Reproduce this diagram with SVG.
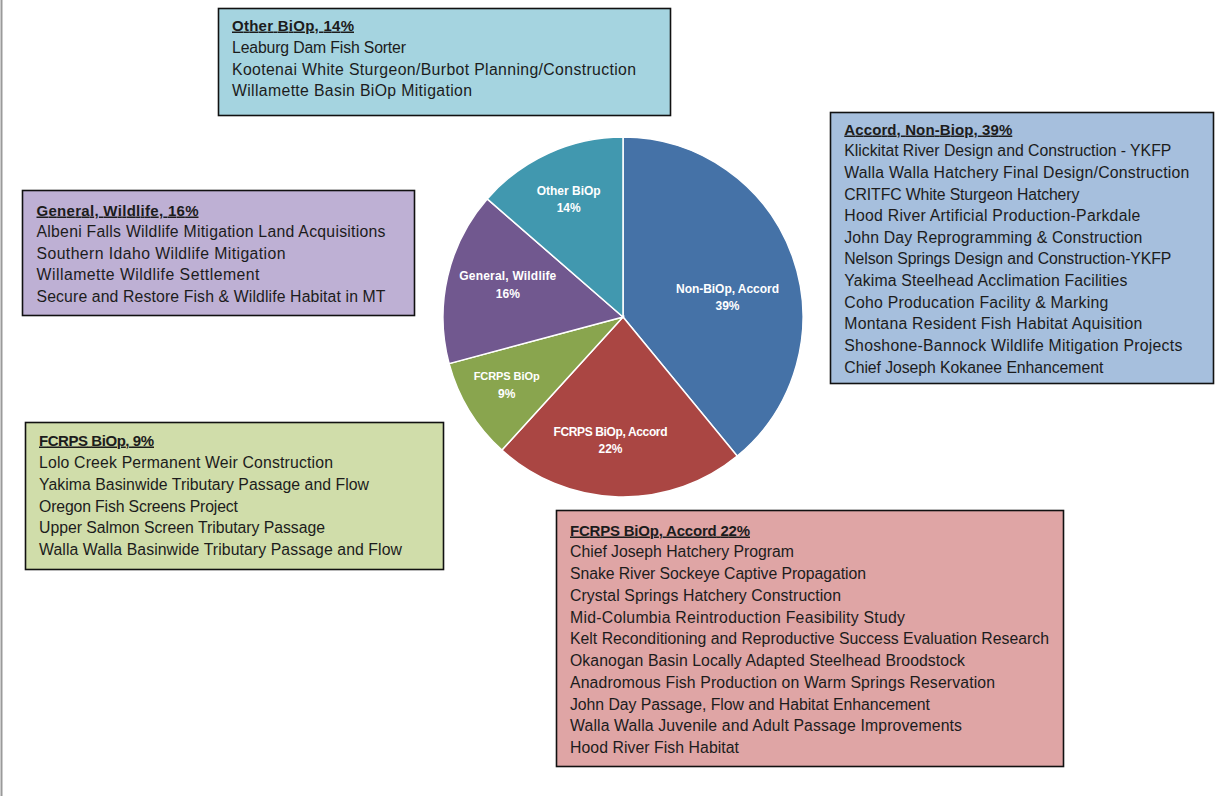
<svg xmlns="http://www.w3.org/2000/svg" width="1215" height="796" viewBox="0 0 1215 796">
<style>
.box{stroke:#111;stroke-width:1.6}
.t{font-family:"Liberation Sans",Arial,sans-serif;font-size:15.8px;fill:#1c1c1c}
.h{font-weight:bold;text-decoration:underline;font-size:15px}
.sl{stroke:#fff;stroke-width:1.5}
.pl{font-family:"Liberation Sans",Arial,sans-serif;font-size:12px;font-weight:bold;fill:#fff;text-anchor:middle}
</style>
<rect width="1215" height="796" fill="#fff"/>
<line x1="1.5" y1="0" x2="1.5" y2="796" stroke="#9a9a9a" stroke-width="2"/>

<g id="pie">
<path class="sl" fill="#4572A7" d="M623,317 L623,137 A180,180 0 0 1 737.2,456.1 Z"/>
<path class="sl" fill="#AA4643" d="M623,317 L737.2,456.1 A180,180 0 0 1 501.9,450.1 Z"/>
<path class="sl" fill="#89A54E" d="M623,317 L501.9,450.1 A180,180 0 0 1 449.1,363.6 Z"/>
<path class="sl" fill="#71588F" d="M623,317 L449.1,363.6 A180,180 0 0 1 487.2,198.9 Z"/>
<path class="sl" fill="#4198AF" d="M623,317 L487.2,198.9 A180,180 0 0 1 623,137 Z"/>
<text class="pl" x="727.5" y="292.5" textLength="103">Non-BiOp, Accord</text>
<text class="pl" x="727.5" y="310">39%</text>
<text class="pl" x="610.5" y="435.5" textLength="114">FCRPS BiOp, Accord</text>
<text class="pl" x="610.5" y="453">22%</text>
<text class="pl" x="506.7" y="380" style="font-size:11px" textLength="66">FCRPS BiOp</text>
<text class="pl" x="506.7" y="397.5">9%</text>
<text class="pl" x="507.8" y="280" textLength="97">General, Wildlife</text>
<text class="pl" x="507.8" y="297.5">16%</text>
<text class="pl" x="568.7" y="194.5" textLength="64">Other BiOp</text>
<text class="pl" x="568.7" y="212">14%</text>
</g>

<g id="other-biop">
<rect class="box" x="218.5" y="8.5" width="452" height="107" fill="#A5D4E0"/>
<text class="t h" x="232" y="30.5" textLength="122">Other BiOp, 14%</text>
<text class="t" x="232" y="52.5" textLength="174">Leaburg Dam Fish Sorter</text>
<text class="t" x="232" y="74.5" textLength="404">Kootenai White Sturgeon/Burbot Planning/Construction</text>
<text class="t" x="232" y="95.5" textLength="240">Willamette Basin BiOp Mitigation</text>
</g>

<g id="general-wildlife">
<rect class="box" x="22.5" y="190.5" width="392" height="125" fill="#BEB0D4"/>
<text class="t h" x="36.5" y="215.5" textLength="162">General, Wildlife, 16%</text>
<text class="t" x="36.5" y="236.5" textLength="349">Albeni Falls Wildlife Mitigation Land Acquisitions</text>
<text class="t" x="36.5" y="258.5" textLength="249">Southern Idaho Wildlife Mitigation</text>
<text class="t" x="36.5" y="279.5" textLength="223">Willamette Wildlife Settlement</text>
<text class="t" x="36.5" y="301.5" textLength="349">Secure and Restore Fish &amp; Wildlife Habitat in MT</text>
</g>

<g id="fcrps-biop">
<rect class="box" x="25.5" y="422.5" width="418" height="147" fill="#D0DDAA"/>
<text class="t h" x="39" y="445.5" textLength="115">FCRPS BiOp, 9%</text>
<text class="t" x="39" y="467.5" textLength="294">Lolo Creek Permanent Weir Construction</text>
<text class="t" x="39" y="489.5" textLength="330">Yakima Basinwide Tributary Passage and Flow</text>
<text class="t" x="39" y="511.5" textLength="199">Oregon Fish Screens Project</text>
<text class="t" x="39" y="532.5" textLength="286">Upper Salmon Screen Tributary Passage</text>
<text class="t" x="39" y="554.5" textLength="363">Walla Walla Basinwide Tributary Passage and Flow</text>
</g>

<g id="accord-non-biop">
<rect class="box" x="830.5" y="112.5" width="383" height="271" fill="#A6BFDD"/>
<text class="t h" x="844.3" y="134.5" textLength="168">Accord, Non-Biop, 39%</text>
<text class="t" x="844.3" y="155.5" textLength="327">Klickitat River Design and Construction - YKFP</text>
<text class="t" x="844.3" y="177.5" textLength="345">Walla Walla Hatchery Final Design/Construction</text>
<text class="t" x="844.3" y="199.5" textLength="235">CRITFC White Sturgeon Hatchery</text>
<text class="t" x="844.3" y="220.5" textLength="296">Hood River Artificial Production-Parkdale</text>
<text class="t" x="844.3" y="242.5" textLength="298">John Day Reprogramming &amp; Construction</text>
<text class="t" x="844.3" y="263.5" textLength="327">Nelson Springs Design and Construction-YKFP</text>
<text class="t" x="844.3" y="285.5" textLength="283">Yakima Steelhead Acclimation Facilities</text>
<text class="t" x="844.3" y="307.5" textLength="264">Coho Producation Facility &amp; Marking</text>
<text class="t" x="844.3" y="328.5" textLength="298">Montana Resident Fish Habitat Aquisition</text>
<text class="t" x="844.3" y="350.5" textLength="338">Shoshone-Bannock Wildlife Mitigation Projects</text>
<text class="t" x="844.3" y="372.5" textLength="259">Chief Joseph Kokanee Enhancement</text>
</g>

<g id="fcrps-biop-accord">
<rect class="box" x="556.5" y="510.5" width="507" height="256" fill="#DFA5A5"/>
<text class="t h" x="570" y="535.5" textLength="180">FCRPS BiOp, Accord 22%</text>
<text class="t" x="570" y="556.5" textLength="224">Chief Joseph Hatchery Program</text>
<text class="t" x="570" y="578.5" textLength="296">Snake River Sockeye Captive Propagation</text>
<text class="t" x="570" y="600.5" textLength="271">Crystal Springs Hatchery Construction</text>
<text class="t" x="570" y="622.5" textLength="335">Mid-Columbia Reintroduction Feasibility Study</text>
<text class="t" x="570" y="643.5" textLength="479">Kelt Reconditioning and Reproductive Success Evaluation Research</text>
<text class="t" x="570" y="665.5" textLength="395">Okanogan Basin Locally Adapted Steelhead Broodstock</text>
<text class="t" x="570" y="687.5" textLength="425">Anadromous Fish Production on Warm Springs Reservation</text>
<text class="t" x="570" y="709.5" textLength="360">John Day Passage, Flow and Habitat Enhancement</text>
<text class="t" x="570" y="730.5" textLength="392">Walla Walla Juvenile and Adult Passage Improvements</text>
<text class="t" x="570" y="752.5" textLength="169">Hood River Fish Habitat</text>
</g>
</svg>
